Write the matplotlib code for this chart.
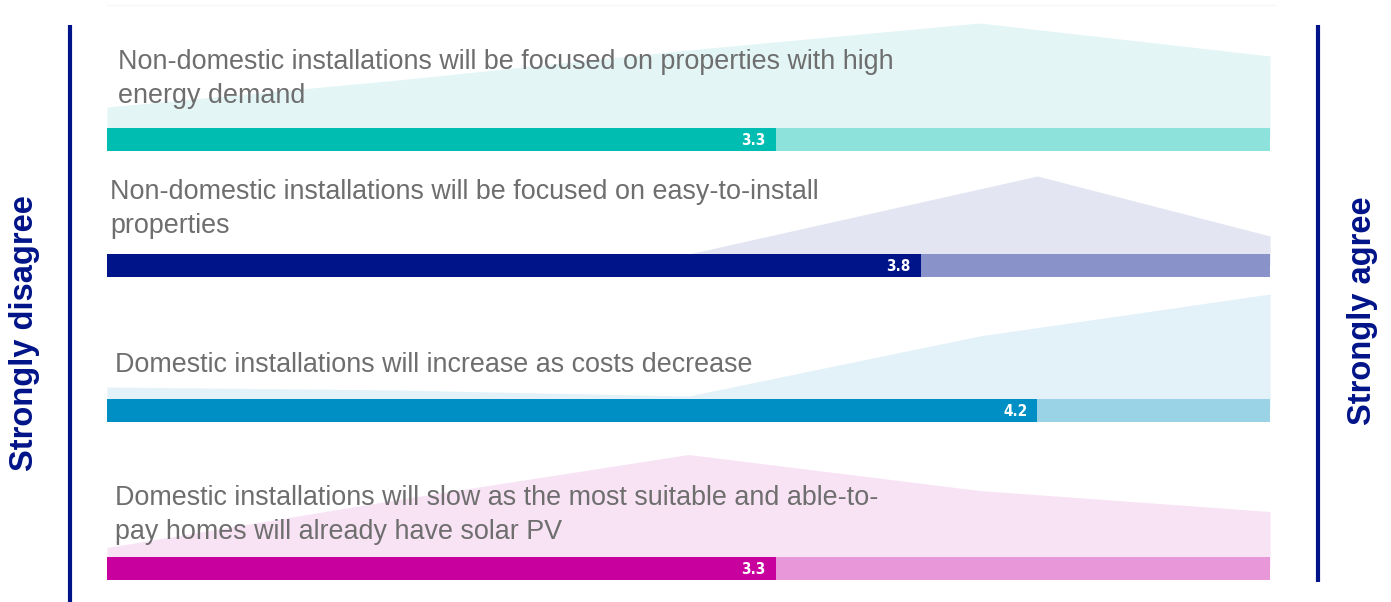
import matplotlib
matplotlib.use("Agg")
import matplotlib.pyplot as plt

# statements (row labels), top to bottom
labels = [
    "Non-domestic installations will be focused on properties with high\nenergy demand",
    "Non-domestic installations will be focused on easy-to-install\nproperties",
    "Domestic installations will increase as costs decrease",
    "Domestic installations will slow as the most suitable and able-to-\npay homes will already have solar PV",
]
means = [3.3, 3.8, 4.2, 3.3]

# response distribution outline (scale position, share %)
dist_x = [
    [1, 2, 3, 4, 5],
    [1, 2, 3, 4.2, 5],
    [1, 2, 3, 4, 5],
    [1, 2, 3, 4, 5],
]
dist_share = [
    [7, 16, 26, 35, 24],
    [0, 0, 0, 26, 6],
    [4, 3, 1, 21, 35],
    [3, 19, 34, 22, 15],
]

dark = ["#00bdb2", "#001489", "#008fc5", "#c8009e"]
light = ["#8de2dc", "#8a93c9", "#9ad2e6", "#e898d8"]
shade = ["#e3f5f5", "#e3e5f2", "#e3f2f8", "#f8e3f4"]

navy = "#001489"
grey = "#6e6e6e"

fig = plt.figure(figsize=(13.91, 6.02), dpi=100)
ax = fig.add_axes([0, 0, 1, 1])
ax.set_xlim(0.632, 5.416)
ax.set_ylim(602, 0)
ax.axis("off")

bar_y = [139.5, 265.5, 410.5, 568]
bar_h = 23
px = 3.0  # pixels per percent
text_y = [79, 209, 365, 515]
text_x = [1.038, 1.01, 1.027, 1.027]

for i in range(4):
    top = bar_y[i] - bar_h / 2
    ys = [top - s * px for s in dist_share[i]]
    ax.fill_between(dist_x[i], ys, [bar_y[i]] * len(ys), color=shade[i], lw=0, zorder=1)
    ax.barh(bar_y[i], 5 - means[i], left=means[i], height=bar_h, color=light[i], zorder=2)
    ax.barh(bar_y[i], means[i] - 1, left=1, height=bar_h, color=dark[i], zorder=3)
    ax.text(means[i] - 0.035, bar_y[i] + 1, f"{means[i]:.1f}", color="white",
            fontsize=11, fontweight="bold", ha="right", va="center",
            family="DejaVu Sans", fontstretch="condensed", zorder=4)
    ax.text(text_x[i], text_y[i], labels[i], color=grey, fontsize=19.4,
            ha="left", va="center", linespacing=1.36,
            family=["Liberation Sans", "DejaVu Sans"], zorder=4)

# faint frame line at top
ax.plot([1, 5.017], [5, 5], color="#f7f7f7", lw=1, zorder=0)

# side scale markers
ax.plot([0.872, 0.872], [25, 602], color=navy, lw=3, solid_capstyle="butt")
ax.plot([5.164, 5.164], [25, 582], color=navy, lw=3, solid_capstyle="butt")
fig.text(25 / 1391, 1 - 333 / 602, "Strongly disagree", rotation=90, color=navy,
         fontsize=23.5, fontweight="bold", ha="center", va="center",
         family=["Liberation Sans", "DejaVu Sans"])
fig.text(1362 / 1391, 1 - 311 / 602, "Strongly agree", rotation=90, color=navy,
         fontsize=23.5, fontweight="bold", ha="center", va="center",
         family=["Liberation Sans", "DejaVu Sans"])

fig.savefig("out.png", dpi=100, facecolor="white")
